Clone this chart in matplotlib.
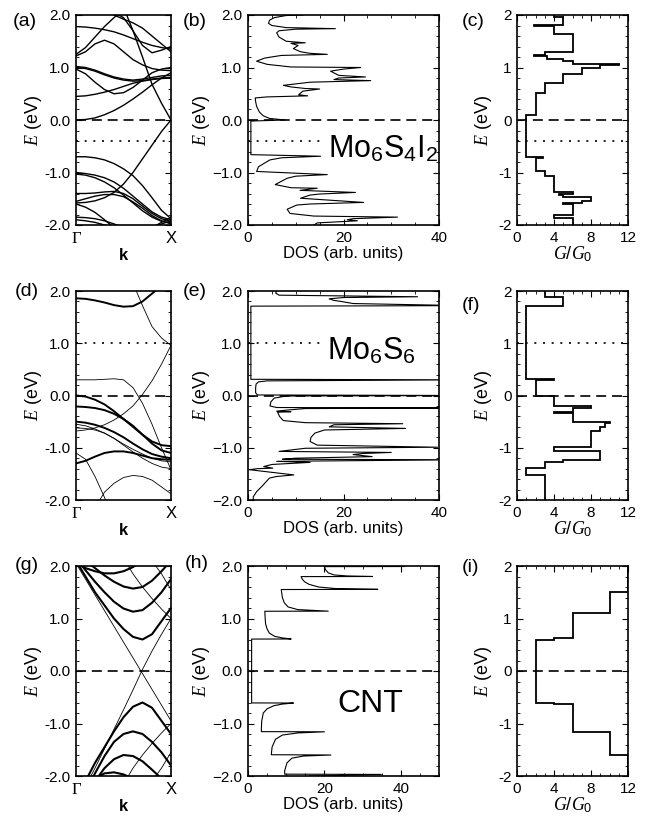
import numpy as np
import matplotlib
matplotlib.use("Agg")
import matplotlib.pyplot as plt
from matplotlib.ticker import MultipleLocator, FuncFormatter, FormatStrFormatter

plt.rcParams['font.family'] = ['Liberation Sans', 'DejaVu Sans']
plt.rcParams['mathtext.fontset'] = 'custom'
plt.rcParams['mathtext.rm'] = 'Liberation Sans'
plt.rcParams['mathtext.it'] = 'Liberation Serif:italic'
plt.rcParams['mathtext.sf'] = 'Liberation Sans'
plt.rcParams['axes.unicode_minus'] = False

# === k points along Gamma -> X ===
k_grid = [0.0, 0.1, 0.2, 0.3, 0.4, 0.5, 0.6, 0.7, 0.8, 0.9, 1.0]

# === (a) Mo6S4I2 bands ===
bands_a = [
    [0.00, 0.01, 0.04, 0.10, 0.18, 0.28, 0.40, 0.53, 0.67, 0.80, 0.90],
    [0.45, 0.46, 0.49, 0.53, 0.58, 0.64, 0.70, 0.74, 0.77, 0.79, 0.80],
    [1.00, 0.98, 0.93, 0.86, 0.80, 0.76, 0.74, 0.75, 0.78, 0.80, 0.81],
    [1.02, 1.00, 0.95, 0.88, 0.82, 0.78, 0.76, 0.78, 0.81, 0.84, 0.85],
    [0.97, 0.88, 0.72, 0.58, 0.50, 0.52, 0.62, 0.76, 0.90, 0.97, 1.00],
    [1.22, 1.30, 1.45, 1.52, 1.45, 1.30, 1.15, 1.05, 0.98, 0.95, 0.94],
    [1.25, 1.38, 1.58, 1.78, 1.95, 2.10, 2.25, 2.40, 2.50, 2.55, 2.60],
    [1.78, 1.77, 1.75, 1.72, 1.68, 1.62, 1.55, 1.48, 1.42, 1.38, 1.35],
    [2.60, 2.45, 2.30, 2.15, 2.05, 1.95, 1.70, 1.42, 1.28, 1.33, 1.40],
    [2.50, 2.40, 2.25, 2.10, 2.00, 1.92, 1.85, 1.75, 1.60, 1.45, 1.30],
    [3.00, 3.00, 3.00, 2.90, 2.60, 2.15, 1.70, 1.20, 0.68, 0.32, 0.00],
    [-0.70, -0.70, -0.72, -0.76, -0.83, -0.93, -1.06, -1.25, -1.48, -1.72, -1.88],
    [-1.58, -1.57, -1.54, -1.48, -1.38, -1.22, -1.00, -0.74, -0.48, -0.22, 0.00],
    [-1.00, -1.02, -1.05, -1.10, -1.18, -1.30, -1.45, -1.60, -1.75, -1.85, -1.90],
    [-1.03, -1.05, -1.10, -1.18, -1.29, -1.43, -1.58, -1.73, -1.85, -1.93, -1.96],
    [-1.40, -1.40, -1.39, -1.37, -1.36, -1.40, -1.50, -1.64, -1.78, -1.88, -1.93],
    [-1.55, -1.50, -1.45, -1.42, -1.42, -1.46, -1.56, -1.68, -1.82, -1.92, -1.98],
    [-1.60, -1.66, -1.76, -1.90, -2.05, -2.20, -2.30, -2.35, -2.35, -2.30, -2.25],
    [-1.85, -1.86, -1.88, -1.92, -1.98, -2.05, -2.10, -2.10, -2.05, -1.95, -1.85],
    [-1.90, -1.92, -1.95, -2.00, -2.06, -2.12, -2.15, -2.12, -2.05, -1.98, -1.92],
]

# === (d) Mo6S6 bands ===
bands_d_thick = [
    [1.86, 1.85, 1.82, 1.78, 1.73, 1.70, 1.71, 1.80, 1.95, 2.10, 2.25],
    [0.00, -0.02, -0.08, -0.17, -0.30, -0.45, -0.60, -0.75, -0.88, -0.95, -0.97],
    [-0.21, -0.22, -0.24, -0.28, -0.35, -0.45, -0.58, -0.75, -0.92, -1.05, -1.10],
    [-0.50, -0.52, -0.56, -0.62, -0.70, -0.80, -0.92, -1.03, -1.12, -1.17, -1.20],
    [-1.30, -1.25, -1.17, -1.10, -1.07, -1.07, -1.10, -1.15, -1.20, -1.22, -1.23],
]
bands_d_thin = [
    [3.60, 3.40, 3.20, 3.00, 2.80, 2.60, 2.15, 1.72, 1.32, 1.10, 0.96],
    [-0.68, -0.66, -0.62, -0.56, -0.47, -0.35, -0.20, 0.02, 0.28, 0.60, 0.96],
    [0.30, 0.30, 0.30, 0.31, 0.32, 0.30, 0.15, -0.15, -0.55, -1.00, -1.42],
    [-0.55, -0.58, -0.64, -0.72, -0.82, -0.93, -1.03, -1.12, -1.20, -1.25, -1.27],
    [-0.62, -0.63, -0.66, -0.72, -0.82, -0.95, -1.08, -1.20, -1.30, -1.37, -1.40],
    [-1.10, -1.22, -1.55, -1.95, -2.40, -2.80, -3.00, -3.00, -3.00, -3.00, -3.00],
    [-2.60, -2.40, -2.15, -1.85, -1.68, -1.57, -1.53, -1.55, -1.62, -1.75, -1.88],
]

# === (g) CNT bands ===
bands_g_thick = [
    [2.10, 1.80, 1.50, 1.25, 1.00, 0.80, 0.65, 0.60, 0.70, 0.95, 1.20],
    [2.15, 1.92, 1.70, 1.50, 1.32, 1.19, 1.13, 1.16, 1.30, 1.50, 1.75],
    [2.25, 2.10, 1.96, 1.82, 1.70, 1.61, 1.57, 1.60, 1.72, 1.90, 2.10],
    [2.05, 1.96, 1.90, 1.86, 1.86, 1.90, 1.98, 2.10, 2.25, 2.40, 2.50],
    [-2.40, -2.10, -1.75, -1.45, -1.15, -0.88, -0.68, -0.60, -0.70, -0.95, -1.20],
    [-2.60, -2.30, -1.95, -1.62, -1.35, -1.20, -1.15, -1.20, -1.35, -1.55, -1.80],
    [-2.70, -2.40, -2.10, -1.85, -1.68, -1.60, -1.62, -1.72, -1.88, -2.05, -2.20],
    [-2.40, -2.20, -2.05, -1.95, -1.93, -1.97, -2.05, -2.20, -2.35, -2.50, -2.60],
]
bands_g_thin = [
    [2.05, 1.75, 1.45, 1.15, 0.85, 0.55, 0.25, -0.05, -0.35, -0.65, -0.95],
    [-2.55, -2.20, -1.85, -1.48, -1.11, -0.74, -0.36, 0.03, 0.38, 0.70, 1.00],
    [3.50, 3.30, 3.00, 2.70, 2.40, 2.15, 1.85, 1.60, 1.38, 1.18, 1.00],
    [-3.50, -3.30, -3.00, -2.70, -2.40, -2.15, -1.85, -1.60, -1.38, -1.18, -1.00],
    [3.50, 3.30, 3.10, 2.90, 2.70, 2.55, 2.40, 2.25, 2.10, 1.85, 1.55],
    [-3.50, -3.30, -3.10, -2.90, -2.70, -2.55, -2.40, -2.25, -2.10, -1.85, -1.55],
]

# === DOS curves (E, DOS) from top to bottom ===
dos_b_E = [2.00, 1.99, 1.95, 1.90, 1.84, 1.80, 1.76, 1.74, 1.73, 1.70, 1.66, 1.58, 1.50, 1.47,
           1.46, 1.42, 1.36, 1.30, 1.27, 1.25, 1.23, 1.18, 1.12, 1.06, 1.01, 1.00, 0.97, 0.93,
           0.85, 0.82, 0.80, 0.77, 0.75, 0.72, 0.66, 0.63, 0.60, 0.59, 0.55, 0.48, 0.46, 0.44,
           0.42, 0.35, 0.26, 0.15, 0.08, 0.03, 0.00, -0.02, -0.66, -0.69, -0.72, -0.76, -0.89,
           -0.98, -1.04, -1.07, -1.11, -1.23, -1.29, -1.30, -1.34, -1.38, -1.41, -1.43, -1.49,
           -1.57, -1.60, -1.62, -1.70, -1.78, -1.83, -1.85, -1.88, -1.90, -1.92, -1.96, -2.00]
dos_b = [11.5, 8.0, 5.5, 4.5, 4.3, 5.0, 8.0, 18.3, 10.0, 6.5, 6.0, 6.5, 8.0, 12.0,
         9.0, 10.5, 9.5, 11.0, 13.0, 16.6, 7.0, 3.5, 1.8, 4.0, 9.0, 23.6, 20.0, 17.3,
         19.0, 24.6, 19.0, 18.0, 25.7, 13.0, 7.4, 9.0, 12.0, 15.0, 11.5, 10.6, 12.5, 4.0,
         1.5, 1.6, 1.8, 2.4, 3.2, 4.5, 7.8, 0.6, 0.6, 15.2, 7.0, 4.6, 2.2,
         1.8, 16.6, 10.0, 8.2, 5.7, 9.0, 14.5, 10.9, 22.5, 15.0, 13.0, 11.0,
         24.2, 13.0, 10.2, 8.2, 8.8, 13.8, 31.3, 22.0, 20.8, 22.9, 14.5, 13.8]

dos_e_E = [2.00, 1.96, 1.92, 1.89, 1.875, 1.85, 1.82, 1.80, 1.76, 1.72, 1.71, 0.31, 0.30, 0.28,
           0.26, 0.22, 0.15, 0.05, 0.01, 0.00, -0.01, -0.05, -0.12, -0.20, -0.23, -0.24, -0.25,
           -0.28, -0.30, -0.31, -0.32, -0.40, -0.48, -0.52, -0.54, -0.56, -0.60, -0.63, -0.66,
           -0.72, -0.80, -0.88, -0.95, -0.99, -1.01, -1.07, -1.09, -1.11, -1.13, -1.17, -1.20,
           -1.22, -1.23, -1.26, -1.28, -1.32, -1.36, -1.39, -1.40, -1.42, -1.52, -1.55, -1.58,
           -1.64, -1.74, -1.84, -1.94, -2.00]
dos_e = [6.0, 5.8, 6.5, 35.5, 20.0, 17.0, 18.0, 19.5, 22.0, 45.0, 0.6, 0.6, 45.0, 4.0,
         2.2, 1.7, 1.6, 1.6, 2.0, 45.0, 8.0, 5.5, 4.8, 4.6, 6.0, 45.0, 12.0,
         8.0, 6.0, 9.0, 6.2, 6.6, 7.4, 12.0, 32.4, 18.0, 17.0, 33.0, 16.0,
         14.0, 13.2, 13.0, 14.5, 39.7, 12.0, 6.5, 30.0, 24.0, 22.0, 26.0, 10.0,
         7.2, 45.0, 6.0, 13.0, 5.0, 3.3, 5.2, 2.0, 0.3, 9.6, 6.0, 4.5,
         3.9, 2.9, 1.8, 1.1, 1.1]

dos_h_E = [2.00, 1.99, 1.988, 1.93, 1.87, 1.83, 1.81, 1.80, 1.798, 1.75, 1.70, 1.65, 1.60, 1.57,
           1.555, 1.552, 1.50, 1.40, 1.30, 1.22, 1.17, 1.14, 1.138, 1.00, 0.90, 0.80, 0.72,
           0.66, 0.63, 0.61, 0.608, -0.608, -0.61, -0.63, -0.66, -0.72, -0.80, -0.95, -1.10,
           -1.155, -1.158, -1.18, -1.22, -1.30, -1.45, -1.595, -1.60, -1.62, -1.66, -1.75,
           -1.90, -1.965, -1.97, -1.99, -2.00]
dos_h = [38.0, 41.0, 20.0, 20.3, 21.0, 22.5, 26.0, 32.6, 13.9, 14.2, 14.8, 16.0, 18.5, 23.0,
         34.0, 8.7, 8.8, 9.0, 9.5, 10.5, 13.0, 21.0, 4.4, 4.5, 4.6, 5.0, 5.6,
         7.0, 9.0, 11.3, 0.95, 0.95, 11.9, 9.0, 6.8, 5.0, 4.0, 3.6, 3.5,
         3.5, 20.0, 13.0, 9.0, 7.2, 6.3, 6.1, 21.7, 14.5, 11.5, 10.2,
         9.6, 9.6, 34.9, 24.0, 16.0]

# === Conductance steps (edges top -> bottom, G/G0 between edges) ===
g_c_edges = [2.0, 1.96, 1.81, 1.79, 1.64, 1.30, 1.24, 1.22, 1.16, 1.12, 1.07, 1.05, 1.00,
             0.87, 0.71, 0.51, 0.09, -0.70, -0.72, -0.98, -1.07, -1.38, -1.40, -1.43,
             -1.46, -1.55, -1.58, -1.60, -1.80, -1.86, -2.0]
g_c = [4, 5, 1.8, 4, 6, 3, 1.8, 3.2, 5, 6, 11, 9, 7, 5, 3, 2, 1, 2.8, 2, 3, 4, 6, 4.5,
       5, 8, 7, 5, 6, 4, 6]

g_f_edges = [2.0, 1.88, 1.72, 0.31, 0.29, 0.0, -0.21, -0.23, -0.32, -0.34, -0.51, -0.53,
             -0.60, -0.68, -0.99, -1.06, -1.23, -1.28, -1.39, -1.52, -2.0]
g_f = [3, 5, 1, 4, 2, 4, 8, 6, 4, 6, 10, 9.5, 9, 8, 4, 9, 5, 3, 1, 3]

g_i_edges = [2.0, 1.51, 1.11, 0.62, 0.60, -0.60, -0.62, -1.17, -1.60, -2.0]
g_i = [12, 10, 6, 4, 2, 4, 6, 10, 12]

# === figure layout (pixel boxes) ===
W, H = 661, 823
fig = plt.figure(figsize=(W / 100, H / 100), dpi=100)


def add_ax(l, t, r, b):
    return fig.add_axes([l / W, 1 - b / H, (r - l) / W, (b - t) / H])


rows = [(15, 225), (291, 500), (566, 776)]
cols = [(76, 171), (248, 439), (517, 628)]

dash = (0, (6, 3.5))
dot = (0, (1.2, 4))
minus_fmt = FuncFormatter(lambda v, p: f'{v:.1f}'.replace('-', '\u2212'))


def common(ax):
    ax.tick_params(which='both', direction='in', top=True, right=True, labelsize=11, pad=4)
    ax.tick_params(which='major', length=4, width=0.8)
    ax.tick_params(which='minor', length=2.2, width=0.6)
    for s in ax.spines.values():
        s.set_linewidth(1.2)
    ax.set_ylim(-2, 2)
    ax.yaxis.set_major_locator(MultipleLocator(1))
    ax.yaxis.set_minor_locator(MultipleLocator(0.2))


def band_ax(ax):
    common(ax)
    ax.set_xlim(0, 1)
    ax.set_xticks([0, 1])
    ax.set_xticklabels(['\u0393', 'X'])
    ax.get_xticklabels()[0].set_fontfamily('Liberation Serif')
    ax.tick_params(axis='x', which='major', length=0, labelsize=12)
    ax.yaxis.set_major_formatter(FormatStrFormatter('%.1f'))
    ax.set_xlabel('k', fontweight='bold', fontsize=12, labelpad=1)
    ax.set_ylabel('$E$ (eV)', fontsize=13, labelpad=0)


def dos_ax(ax, xmax):
    common(ax)
    ax.set_xlim(0, xmax)
    ax.xaxis.set_major_locator(MultipleLocator(20))
    ax.xaxis.set_minor_locator(MultipleLocator(5))
    ax.yaxis.set_major_formatter(minus_fmt)
    ax.set_xlabel('DOS (arb. units)', fontsize=12, labelpad=1)
    ax.set_ylabel('$E$ (eV)', fontsize=13, labelpad=0)


def g_ax(ax):
    common(ax)
    ax.set_xlim(0, 12)
    ax.xaxis.set_major_locator(MultipleLocator(4))
    ax.xaxis.set_minor_locator(MultipleLocator(1))
    ax.set_xlabel('$G/G_{\\mathit{0}}$', fontsize=13, labelpad=0)
    ax.set_ylabel('$E$ (eV)', fontsize=13, labelpad=3)


axes = [[add_ax(c[0], r[0], c[1], r[1]) for c in cols] for r in rows]

# --- row 1: Mo6S4I2 ---
ax = axes[0][0]
for b in bands_a:
    ax.plot(k_grid, b, color='k', lw=1.0)
ax.axhline(0, color='k', lw=1.2, ls=dash)
ax.axhline(-0.4, color='k', lw=1.2, ls=dot)
band_ax(ax)

ax = axes[0][1]
ax.plot(dos_b, dos_b_E, color='k', lw=0.8)
ax.axhline(0, color='k', lw=1.2, ls=dash)
ax.plot([0, 16.3], [-0.4, -0.4], color='k', lw=1.2, ls=dot)
ax.text(16.8, -0.72, 'Mo$_6$S$_4$I$_2$', fontsize=22, ha='left', va='baseline')
dos_ax(ax, 40)

ax = axes[0][2]
ax.stairs(g_c[::-1], g_c_edges[::-1], orientation='horizontal', baseline=None, color='k', lw=1.3)
ax.axhline(0, color='k', lw=1.2, ls=dash)
ax.axhline(-0.4, color='k', lw=1.2, ls=dot)
g_ax(ax)

# --- row 2: Mo6S6 ---
ax = axes[1][0]
for b in bands_d_thick:
    ax.plot(k_grid, b, color='k', lw=1.4)
for b in bands_d_thin:
    ax.plot(k_grid, b, color='k', lw=0.6)
ax.axhline(0, color='k', lw=1.2, ls=dash)
ax.axhline(1.0, color='k', lw=1.2, ls=dot)
band_ax(ax)

ax = axes[1][1]
ax.plot(dos_e, dos_e_E, color='k', lw=0.8)
ax.axhline(0, color='k', lw=1.2, ls=dash)
ax.plot([0, 16.2], [1.0, 1.0], color='k', lw=1.2, ls=dot)
ax.text(16.6, 0.69, 'Mo$_6$S$_6$', fontsize=22, ha='left', va='baseline')
dos_ax(ax, 40)

ax = axes[1][2]
ax.stairs(g_f[::-1], g_f_edges[::-1], orientation='horizontal', baseline=None, color='k', lw=1.3)
ax.axhline(0, color='k', lw=1.2, ls=dash)
ax.axhline(1.0, color='k', lw=1.2, ls=dot)
g_ax(ax)

# --- row 3: CNT ---
ax = axes[2][0]
for b in bands_g_thick:
    ax.plot(k_grid, b, color='k', lw=1.5)
for b in bands_g_thin:
    ax.plot(k_grid, b, color='k', lw=0.6)
ax.axhline(0, color='k', lw=1.2, ls=dash)
band_ax(ax)

ax = axes[2][1]
ax.plot(dos_h, dos_h_E, color='k', lw=0.8)
ax.axhline(0, color='k', lw=1.2, ls=dash)
ax.text(23.3, -0.78, 'CNT', fontsize=23, ha='left', va='baseline')
dos_ax(ax, 50)

ax = axes[2][2]
ax.stairs(g_i[::-1], g_i_edges[::-1], orientation='horizontal', baseline=None, color='k', lw=1.3)
ax.axhline(0, color='k', lw=1.2, ls=dash)
g_ax(ax)

# --- panel letters ---
letters = [('(a)', 13, 22), ('(b)', 183, 22), ('(c)', 462, 22),
           ('(d)', 15, 292), ('(e)', 183, 292), ('(f)', 462, 306),
           ('(g)', 15, 565), ('(h)', 185, 564), ('(i)', 462, 567)]
for s, x, y in letters:
    fig.text(x / W, 1 - y / H, s, fontsize=14, ha='left', va='center')

fig.savefig('out.png', dpi=100)
